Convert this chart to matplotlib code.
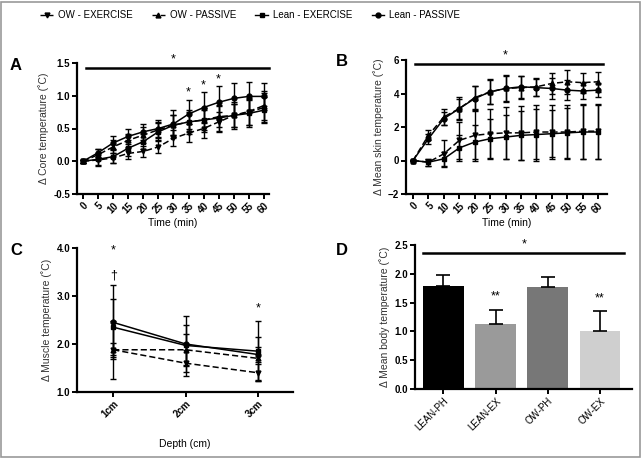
import matplotlib
matplotlib.use("Agg")
import matplotlib.pyplot as plt
import numpy as np
from matplotlib.lines import Line2D
from matplotlib.patches import Rectangle

plt.rcParams['font.family'] = ['Liberation Sans', 'DejaVu Sans']

time = [0, 5, 10, 15, 20, 25, 30, 35, 40, 45, 50, 55, 60]
series_names = ["OW - EXERCISE", "OW - PASSIVE", "Lean - EXERCISE", "Lean - PASSIVE"]

# Panel A: core temperature
core_ow_ex = [0, 0.02, 0.05, 0.12, 0.15, 0.22, 0.35, 0.43, 0.50, 0.60, 0.70, 0.75, 0.82]
core_ow_ex_sd = [0.02, 0.08, 0.08, 0.08, 0.08, 0.1, 0.12, 0.14, 0.15, 0.15, 0.18, 0.2, 0.22]
core_ow_pa = [0, 0.10, 0.22, 0.32, 0.40, 0.48, 0.55, 0.60, 0.63, 0.68, 0.70, 0.76, 0.85]
core_ow_pa_sd = [0.02, 0.08, 0.1, 0.1, 0.12, 0.12, 0.15, 0.15, 0.15, 0.16, 0.18, 0.2, 0.22]
core_ln_ex = [0, 0.03, 0.07, 0.20, 0.30, 0.45, 0.55, 0.60, 0.63, 0.66, 0.70, 0.73, 0.78]
core_ln_ex_sd = [0.02, 0.1, 0.1, 0.12, 0.12, 0.14, 0.15, 0.18, 0.18, 0.2, 0.2, 0.2, 0.2]
core_ln_pa = [0, 0.13, 0.28, 0.38, 0.45, 0.50, 0.57, 0.72, 0.82, 0.90, 0.96, 0.99, 0.99]
core_ln_pa_sd = [0.02, 0.06, 0.1, 0.12, 0.12, 0.13, 0.22, 0.22, 0.24, 0.25, 0.24, 0.22, 0.2]

# Panel B: mean skin temperature
skin_ow_ex = [0, -0.1, 0.4, 1.2, 1.5, 1.6, 1.65, 1.65, 1.7, 1.7, 1.7, 1.75, 1.75]
skin_ow_ex_sd = [0.05, 0.2, 0.8, 1.1, 1.5, 1.5, 1.55, 1.6, 1.6, 1.6, 1.6, 1.65, 1.65]
skin_ow_pa = [0, 1.5, 2.6, 3.1, 3.75, 4.1, 4.3, 4.35, 4.4, 4.6, 4.7, 4.65, 4.7]
skin_ow_pa_sd = [0.05, 0.3, 0.5, 0.7, 0.7, 0.7, 0.75, 0.7, 0.55, 0.6, 0.7, 0.6, 0.6]
skin_ln_ex = [0, -0.1, 0.1, 0.75, 1.1, 1.3, 1.4, 1.5, 1.55, 1.6, 1.65, 1.7, 1.7]
skin_ln_ex_sd = [0.05, 0.2, 0.4, 0.8, 1.0, 1.15, 1.3, 1.45, 1.55, 1.4, 1.5, 1.6, 1.6]
skin_ln_pa = [0, 1.3, 2.5, 3.1, 3.7, 4.1, 4.3, 4.4, 4.35, 4.3, 4.2, 4.15, 4.2]
skin_ln_pa_sd = [0.05, 0.3, 0.4, 0.6, 0.75, 0.75, 0.8, 0.65, 0.5, 0.6, 0.6, 0.5, 0.4]

# Panel C: muscle temperature
depth_labels = ["1cm", "2cm", "3cm"]
musc_ow_ex = [1.88, 1.60, 1.40]
musc_ow_ex_sd = [0.6, 0.27, 0.18]
musc_ow_pa = [1.88, 1.88, 1.70]
musc_ow_pa_sd = [0.15, 0.32, 0.45]
musc_ln_ex = [2.35, 1.97, 1.85]
musc_ln_ex_sd = [0.58, 0.43, 0.63]
musc_ln_pa = [2.45, 2.00, 1.78]
musc_ln_pa_sd = [0.77, 0.58, 0.15]

# Panel D: mean body temperature
bar_labels = ["LEAN-PH", "LEAN-EX", "OW-PH", "OW-EX"]
bar_values = [1.78, 1.13, 1.77, 1.00]
bar_sd = [0.20, 0.25, 0.18, 0.35]

styles = {
    "OW - EXERCISE": dict(ls=(0, (4, 2)), marker='v'),
    "OW - PASSIVE": dict(ls=(0, (4, 2)), marker='^'),
    "Lean - EXERCISE": dict(ls='-', marker='s'),
    "Lean - PASSIVE": dict(ls='-', marker='o'),
}

fig = plt.figure(figsize=(6.42, 4.58), dpi=100)
W, H = 642, 458

def ax_px(l, r, t, b):
    return fig.add_axes([l / W, 1 - b / H, (r - l) / W, (b - t) / H])

def style_ax(ax, boldx=True):
    for s in ['top', 'right']:
        ax.spines[s].set_visible(False)
    for s in ['left', 'bottom']:
        ax.spines[s].set_linewidth(1.6)
    ax.tick_params(width=1.4, length=3.5, labelsize=7, pad=1.5)
    for lbl in ax.get_yticklabels():
        lbl.set_fontweight('bold')
    for lbl in ax.get_xticklabels():
        lbl.set_fontweight('bold' if boldx else 'normal')

def plot_series(ax, x, data):
    for name, (m, sd) in zip(series_names, data):
        st = styles[name]
        ax.errorbar(x, m, yerr=sd, color='black', ls=st['ls'], lw=1.1,
                    marker=st['marker'], ms=3.5, elinewidth=1.0, capsize=2.5,
                    capthick=1.0)

def rot_labels(ax, labels, size=7):
    ax.set_xticklabels(labels, rotation=45, ha='right', rotation_mode='anchor', fontsize=size)

# Panel A
axA = ax_px(77, 269, 63, 194)
plot_series(axA, time, [(core_ow_ex, core_ow_ex_sd), (core_ow_pa, core_ow_pa_sd),
                        (core_ln_ex, core_ln_ex_sd), (core_ln_pa, core_ln_pa_sd)])
axA.set_xlim(-2, 61.7)
axA.set_ylim(-0.5, 1.5)
axA.set_xticks(time)
rot_labels(axA, [str(t) for t in time])
axA.set_yticks([-0.5, 0, 0.5, 1.0, 1.5])
axA.set_yticklabels(["-0.5", "0.0", "0.5", "1.0", "1.5"])
axA.set_xlabel("Time (min)", fontsize=7.5, labelpad=2)
axA.set_ylabel("Δ Core temperature (˚C)", fontsize=7.5, labelpad=3, color='#333333')
axA.plot([1, 61.7], [1.43, 1.43], color='black', lw=1.8, clip_on=False)
axA.text(30, 1.47, "*", ha='center', va='bottom', fontsize=9)
for tx, ty in [(35, 0.96), (40, 1.07), (45, 1.15)]:
    axA.text(tx, ty, "*", ha='center', va='bottom', fontsize=9)
style_ax(axA)

# Panel B
axB = ax_px(406, 607, 60, 194)
plot_series(axB, time, [(skin_ow_ex, skin_ow_ex_sd), (skin_ow_pa, skin_ow_pa_sd),
                        (skin_ln_ex, skin_ln_ex_sd), (skin_ln_pa, skin_ln_pa_sd)])
axB.set_xlim(-2.27, 62.9)
axB.set_ylim(-2, 6)
axB.set_xticks(time)
rot_labels(axB, [str(t) for t in time])
axB.set_yticks([-2, 0, 2, 4, 6])
axB.set_xlabel("Time (min)", fontsize=7.5, labelpad=2)
axB.set_ylabel("Δ Mean skin temperature (˚C)", fontsize=7.5, labelpad=3, color='#333333')
axB.plot([0.5, 61.5], [5.75, 5.75], color='black', lw=1.8, clip_on=False)
axB.text(30, 5.9, "*", ha='center', va='bottom', fontsize=9)
style_ax(axB)

# Panel C
axC = ax_px(77, 293, 248, 392)
xc = [1, 2, 3]
plot_series(axC, xc, [(musc_ow_ex, musc_ow_ex_sd), (musc_ow_pa, musc_ow_pa_sd),
                      (musc_ln_ex, musc_ln_ex_sd), (musc_ln_pa, musc_ln_pa_sd)])
axC.set_xlim(0.5, 3.48)
axC.set_ylim(1.0, 4.0)
axC.set_xticks(xc)
rot_labels(axC, depth_labels)
axC.set_yticks([1.0, 2.0, 3.0, 4.0])
axC.set_yticklabels(["1.0", "2.0", "3.0", "4.0"])
axC.set_xlabel("Depth (cm)", fontsize=7.5, labelpad=14)
axC.set_ylabel("Δ Muscle temperature (˚C)", fontsize=7.5, labelpad=3, color='#333333')
axC.text(1, 3.82, "*", ha='center', va='bottom', fontsize=9)
axC.text(1, 3.3, "†", ha='center', va='bottom', fontsize=9)
axC.text(3, 2.62, "*", ha='center', va='bottom', fontsize=9)
style_ax(axC)

# Panel D
axD = ax_px(415, 632, 245, 389)
xd = np.arange(len(bar_labels))
colors = ['#000000', '#9a9a9a', '#777777', '#cfcfcf']
axD.bar(xd, bar_values, width=0.78, color=colors, yerr=[np.zeros(4), bar_sd],
        error_kw=dict(ecolor='black', elinewidth=1.2, capsize=5, capthick=1.2))
axD.set_xlim(-0.54, 3.61)
axD.set_ylim(0, 2.5)
axD.set_xticks(xd)
rot_labels(axD, bar_labels, size=8)
axD.set_yticks([0, 0.5, 1.0, 1.5, 2.0, 2.5])
axD.set_yticklabels(["0.0", "0.5", "1.0", "1.5", "2.0", "2.5"])
axD.set_ylabel("Δ Mean body temperature (˚C)", fontsize=7.5, labelpad=3, color='#333333')
axD.plot([-0.38, 3.45], [2.36, 2.36], color='black', lw=1.8, clip_on=False)
axD.text(1.55, 2.4, "*", ha='center', va='bottom', fontsize=9)
for i in [1, 3]:
    axD.text(xd[i], bar_values[i] + bar_sd[i] + 0.12, "**", ha='center', va='bottom', fontsize=9)
style_ax(axD, boldx=False)

# Panel letters
for txt, px, py in [("A", 10, 65), ("B", 336, 62), ("C", 10, 250), ("D", 336, 250)]:
    fig.text(px / W, 1 - py / H, txt, fontsize=12, fontweight='bold', ha='left', va='center')

# Legend
handles = [Line2D([0], [0], color='black', lw=1.0, ls=styles[n]['ls'], marker=styles[n]['marker'], ms=3.5)
           for n in series_names]
fig.legend(handles, series_names, loc='center', bbox_to_anchor=(0.39, 1 - 15 / H), ncol=4,
           frameon=False, fontsize=7, handlelength=1.3, handletextpad=0.5, columnspacing=2.0)

# Border
fig.patches.append(Rectangle((1 / W, 1 / H), 1 - 3 / W, 1 - 3 / H, transform=fig.transFigure,
                             fill=False, edgecolor='#999999', lw=1.2))

fig.savefig("out.png", dpi=100)
